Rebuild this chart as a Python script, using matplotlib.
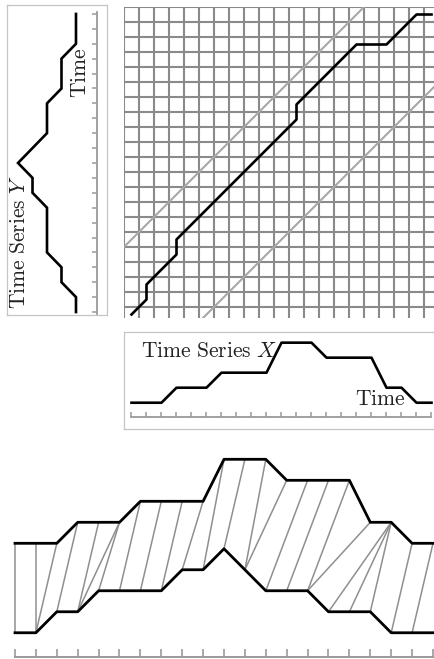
import numpy as np
import matplotlib.pyplot as plt

plt.rcParams['mathtext.fontset'] = 'cm'
plt.rcParams['font.family'] = 'serif'

# two series, values as integer levels
series_x = [0, 0, 0, 1, 1, 1, 2, 2, 2, 2, 4, 4, 4, 3, 3, 3, 3, 1, 1, 0, 0]
series_y = [0, 0, 1, 1, 2, 2, 2, 2, 3, 3, 4, 3, 2, 2, 2, 1, 1, 1, 0, 0, 0]

# warping path drawn in the cost matrix (column = X index, row = Y index)
path_x = [0, 1, 1, 2, 3, 3, 4, 5, 6, 7, 8, 9, 10, 11, 11, 12, 13, 14, 15, 16, 17, 18, 19, 20]
path_y = [0, 1, 2, 3, 4, 5, 6, 7, 8, 9, 10, 11, 12, 13, 14, 15, 16, 17, 18, 18, 18, 19, 20, 20]

# point-to-point matches drawn between the two curves at the bottom
match_x = [0, 1, 2, 3, 4, 5, 5, 6, 7, 8, 9, 10, 11, 12, 13, 14, 15, 16, 17, 18, 18, 18, 19, 20]
match_y = [0, 1, 1, 2, 3, 3, 4, 5, 6, 7, 8, 9, 10, 11, 11, 12, 13, 14, 14, 15, 16, 17, 18, 19]

band = 5
n = len(series_x)
t = np.arange(n)

W, H = 435, 659
fig = plt.figure(figsize=(W / 100, H / 100), dpi=100)

GRID = '#8a8a8a'
BAND = '#a8a8a8'
BOX = '#c4c4c4'
RULER = '#9a9a9a'
TXT = '#222222'


def px_axes(x0, y0, x1, y1):
    return fig.add_axes([x0 / W, 1 - y1 / H, (x1 - x0) / W, (y1 - y0) / H])


def boxed(ax):
    ax.set_xticks([])
    ax.set_yticks([])
    for s in ax.spines.values():
        s.set_color(BOX)
        s.set_linewidth(0.9)


# ---- time series Y (vertical, left) ----
axY = px_axes(7, 5, 107, 315)
axY.set_xlim(4.76, -2.14)
axY.set_ylim(-0.2, 20.6)
boxed(axY)
axY.plot(series_y, t, color='black', lw=1.9, solid_joinstyle='miter')
axY.plot([-1.43, -1.43], [-0.15, 20.1], color=RULER, lw=1.3)
axY.hlines(t, -1.43, -1.08, color=RULER, lw=1.1)
axY.text(0.12, 0.235, r'$\mathrm{Time\ Series}\ Y$', transform=axY.transAxes,
         rotation=90, ha='center', va='center', fontsize=15.5, color=TXT)
axY.text(0.73, 0.78, r'$\mathrm{Time}$', transform=axY.transAxes,
         rotation=90, ha='center', va='center', fontsize=15.5, color=TXT)

# ---- cost matrix grid (cropped at the right and bottom) ----
g_bottom = 318
axG = px_axes(124, 7, W, g_bottom)
axG.set_xlim(0, (W - 124) / 15)
axG.set_ylim((7 + 15 * n - g_bottom) / 15, n)
axG.axis('off')
axG.vlines(np.arange(n + 1), 0, n, color=GRID, lw=1.5)
axG.hlines(np.arange(n + 1), 0, n, color=GRID, lw=1.5)
axG.plot([0, n - band], [band, n], color=BAND, lw=1.5)
axG.plot([band, n], [0, n - band], color=BAND, lw=1.5)
axG.plot(np.array(path_x) + 0.5, np.array(path_y) + 0.5, color='black', lw=1.9)

# ---- time series X (horizontal, under grid) ----
axX = px_axes(124, 332, 450, 429)
axX.set_xlim(-0.5, (450 - 131.5) / 15)
axX.set_ylim(-1.75, 4.71)
boxed(axX)
axX.plot(t, series_x, color='black', lw=1.9)
axX.plot([0, n - 1], [-0.93, -0.93], color=RULER, lw=1.3)
axX.vlines(t, -0.93, -0.63, color=RULER, lw=1.1)
axX.text(17 / 326, 0.80, r'$\mathrm{Time\ Series}\ X$', transform=axX.transAxes,
         ha='left', va='center', fontsize=15.5, color=TXT)
axX.text(256 / 326, 0.31, r'$\mathrm{Time}$', transform=axX.transAxes,
         ha='center', va='center', fontsize=15.5, color=TXT)

# ---- aligned series with matches ----
off = 4.26
axB = px_axes(0, 445, W, H)
axB.set_xlim(-15 / 20.9, (W - 15) / 20.9)
axB.set_ylim((543.3 - H) / 21, (543.3 - 445) / 21)
axB.axis('off')
sx = np.array(series_x, dtype=float)
sy = np.array(series_y, dtype=float) - off
for a, b in zip(match_x, match_y):
    axB.plot([a, b], [sx[a], sy[b]], color='#8f8f8f', lw=1.1, zorder=1)
axB.plot(t, sx, color='black', lw=2.0, zorder=2)
axB.plot(t, sy, color='black', lw=2.0, zorder=2)
ry = (543.3 - 657) / 21
axB.plot([0, n - 1], [ry, ry], color=RULER, lw=1.4)
axB.vlines(t, ry, ry + 0.38, color=RULER, lw=1.2)

fig.savefig('out.png', dpi=100)
